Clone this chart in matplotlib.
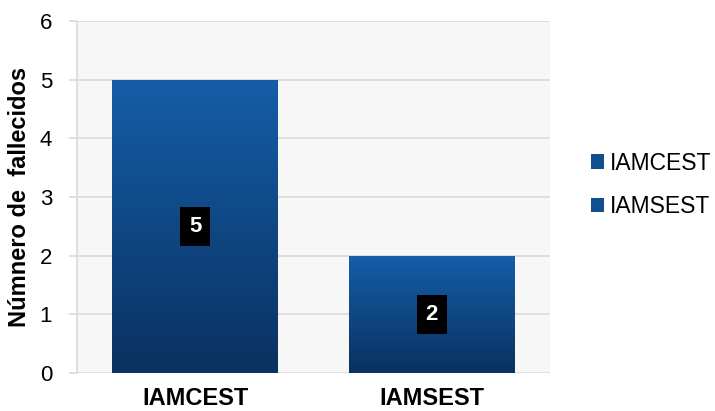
import numpy as np
import matplotlib.pyplot as plt
from matplotlib.colors import LinearSegmentedColormap
from matplotlib.patches import Patch

categorias = ["IAMCEST", "IAMSEST"]
fallecidos = [5, 2]
yticks = [0, 1, 2, 3, 4, 5, 6]

plt.rcParams['font.family'] = ['Liberation Sans', 'DejaVu Sans']

fig = plt.figure(figsize=(7.15, 4.11), dpi=100)
ax = fig.add_axes([0.1077, 0.0925, 0.6615, 0.8565])
ax.set_facecolor("#f7f7f7")

x = np.arange(len(categorias))
bars = ax.bar(x, fallecidos, width=0.7, color="#114f8e", zorder=2)

# gradient fill for each bar, top lighter, bottom darker
grad = LinearSegmentedColormap.from_list("azul", ["#0a3160", "#155ea8"])
g = np.linspace(0, 1, 256).reshape(-1, 1)
for b in bars:
    x0, y0 = b.get_x(), b.get_y()
    w, h = b.get_width(), b.get_height()
    im = ax.imshow(g, cmap=grad, origin="lower", aspect="auto",
                   extent=[x0, x0 + w, y0, y0 + h], zorder=3)
    im.set_clip_path(b)
    b.set_facecolor("none")
    ax.text(x0 + w / 2, y0 + h / 2, str(int(h)), color="white", fontsize=16,
            fontweight="bold", ha="center", va="center", zorder=4,
            bbox=dict(boxstyle="square,pad=0.4", fc="black", ec="none"))

ax.set_xlim(-0.5, len(categorias) - 0.5)
ax.set_ylim(0, 6)
ax.set_yticks(yticks)
ax.yaxis.grid(True, color="#d9d9d9", lw=1.2, zorder=1)
ax.set_axisbelow(True)
ax.set_xticks(x)
ax.set_xticklabels(categorias, fontsize=17, fontweight="bold")
ax.tick_params(axis="y", labelsize=16, length=6, color="#d9d9d9", width=1.2, pad=12)
ax.tick_params(axis="x", length=0, pad=10)
for s in ["top", "right", "bottom"]:
    ax.spines[s].set_visible(False)
ax.spines["left"].set_color("#d9d9d9")
ax.spines["left"].set_linewidth(1.2)

ax.set_ylabel("Númnero de  fallecidos", fontsize=17, fontweight="bold", labelpad=6)

handles = [Patch(facecolor="#114f8e", edgecolor="none") for _ in categorias]
fig.legend(handles, categorias, loc="center left", bbox_to_anchor=(0.826, 0.55),
           frameon=False, fontsize=16.5, handlelength=0.6, handleheight=0.6,
           handletextpad=0.25, labelspacing=0.9, borderpad=0, borderaxespad=0)

fig.savefig("out.png", dpi=100)
